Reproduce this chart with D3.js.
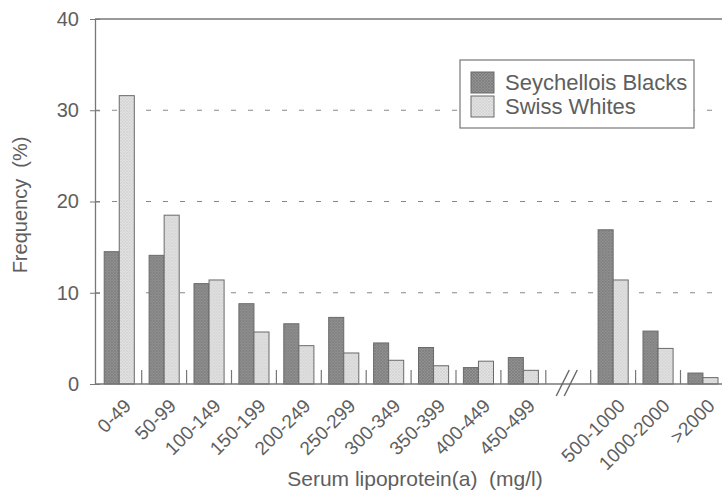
<!DOCTYPE html>
<html>
<head>
<meta charset="utf-8">
<script src="https://cdn.jsdelivr.net/npm/d3@7"></script>
<style>
  body { margin: 0; background: #fff; }
  text { font-family: "Liberation Sans", Arial, sans-serif; fill: #5e5e5e; }
</style>
</head>
<body>
<div id="graph"></div>
<script>
// Data
const categories = ["0-49", "50-99", "100-149", "150-199", "200-249", "250-299", "300-349", "350-399", "400-449", "450-499", "500-1000", "1000-2000", ">2000"];
const seychellois = [14.5, 14.1, 11.0, 8.8, 6.6, 7.3, 4.5, 4.0, 1.8, 2.9, 16.9, 5.8, 1.2];
const swiss = [31.6, 18.5, 11.4, 5.7, 4.2, 3.4, 2.6, 2.0, 2.5, 1.5, 11.4, 3.9, 0.7];
const seriesNames = ["Seychellois Blacks", "Swiss Whites"];
const yTicks = [0, 10, 20, 30, 40];

// slots on the x axis: the break "//" sits between 450-499 and 500-1000
const slots = categories.slice(0, 10).concat(["break"], categories.slice(10));

const width = 722, height = 496;
const lineCol = "#777";

const svg = d3.select("#graph").append("svg")
  .attr("width", width)
  .attr("height", height);

// textures for the bars
const defs = svg.append("defs");
const pDark = defs.append("pattern").attr("id", "dark").attr("patternUnits", "userSpaceOnUse")
  .attr("width", 3).attr("height", 3);
pDark.append("rect").attr("width", 3).attr("height", 3).attr("fill", "#929292");
pDark.append("path").attr("d", "M0,0L3,3M3,0L0,3").attr("stroke", "#7c7c7c").attr("stroke-width", 0.8);
const pLight = defs.append("pattern").attr("id", "light").attr("patternUnits", "userSpaceOnUse")
  .attr("width", 3).attr("height", 3);
pLight.append("rect").attr("width", 3).attr("height", 3).attr("fill", "#e2e2e2");
pLight.append("path").attr("d", "M0,0L3,3M3,0L0,3").attr("stroke", "#cfcfcf").attr("stroke-width", 0.6);
const fills = ["url(#dark)", "url(#light)"];

// scales
const x0 = d3.scaleBand().domain(slots).range([96.8, 96.8 + 14 * 44.9]);
const x1 = d3.scaleBand().domain(seriesNames).range([7.4, x0.bandwidth() - 7.4]);
const y = d3.scaleLinear().domain([0, 40]).range([384, 19]);

// dashed grid
svg.append("g").selectAll("line")
  .data(yTicks.filter(d => d > 0 && d < 40))
  .join("line")
  .attr("x1", 95).attr("x2", width)
  .attr("y1", d => y(d)).attr("y2", d => y(d))
  .attr("stroke", "#888").attr("stroke-width", 1)
  .attr("stroke-dasharray", "5,12");

// y axis with ticks crossing the axis
const yAxis = svg.append("g").attr("transform", "translate(95,0)")
  .call(d3.axisLeft(y).tickValues(yTicks).tickSizeInner(-5).tickSizeOuter(0).tickPadding(16));
yAxis.select(".domain").attr("stroke", lineCol).attr("stroke-width", 1.3);
yAxis.selectAll(".tick line").attr("stroke", lineCol).attr("x1", -5).attr("x2", 5);
yAxis.selectAll(".tick text").attr("font-size", 20).attr("fill", "#5e5e5e")
  .style("font-family", "Liberation Sans, Arial, sans-serif");

// top frame line
svg.append("line").attr("x1", 95).attr("x2", width).attr("y1", y(40)).attr("y2", y(40))
  .attr("stroke", lineCol).attr("stroke-width", 1.3);

// bars
const data = categories.map((c, i) => ({cat: c, vals: [seychellois[i], swiss[i]]}));
svg.append("g").selectAll("g")
  .data(data)
  .join("g")
  .attr("transform", d => "translate(" + x0(d.cat) + ",0)")
  .selectAll("rect")
  .data(d => d.vals.map((v, j) => ({name: seriesNames[j], v: v, j: j})))
  .join("rect")
  .attr("x", d => x1(d.name))
  .attr("width", x1.bandwidth())
  .attr("y", d => y(d.v))
  .attr("height", d => y(0) - y(d.v))
  .attr("fill", d => fills[d.j])
  .attr("stroke", "#6a6a6a").attr("stroke-width", 1);

// x axis line + small ticks between groups
svg.append("line").attr("x1", 95).attr("x2", width).attr("y1", y(0)).attr("y2", y(0))
  .attr("stroke", lineCol).attr("stroke-width", 1.3);
svg.append("g").selectAll("line")
  .data(slots.slice(1))
  .join("line")
  .attr("x1", d => x0(d)).attr("x2", d => x0(d))
  .attr("y1", y(0) - 14).attr("y2", y(0))
  .attr("stroke", lineCol).attr("stroke-width", 1.2);

// the "//" break mark
const bx = x0("break") + x0.bandwidth() / 2;
svg.append("g").selectAll("line")
  .data([-4, 4])
  .join("line")
  .attr("x1", d => bx + d - 8).attr("y1", 396)
  .attr("x2", d => bx + d + 5).attr("y2", 370)
  .attr("stroke", "#666").attr("stroke-width", 1.4);

// category labels
svg.append("g").selectAll("text")
  .data(categories)
  .join("text")
  .attr("transform", d => "translate(" + (x0(d) + x0.bandwidth() / 2 + 13) + ",407) rotate(-45)")
  .attr("text-anchor", "end")
  .attr("font-size", 19)
  .text(d => d);

// axis titles
svg.append("text")
  .attr("x", 415).attr("y", 486)
  .attr("text-anchor", "middle")
  .attr("font-size", 21)
  .style("white-space", "pre")
  .text("Serum lipoprotein(a)  (mg/l)");
svg.append("text")
  .attr("transform", "translate(27,205) rotate(-90)")
  .attr("text-anchor", "middle")
  .attr("font-size", 20)
  .style("white-space", "pre")
  .text("Frequency  (%)");

// legend
const lg = svg.append("g");
lg.append("rect").attr("x", 460).attr("y", 60).attr("width", 234).attr("height", 68)
  .attr("fill", "#fff").attr("stroke", lineCol).attr("stroke-width", 1.2);
seriesNames.forEach((s, i) => {
  lg.append("rect").attr("x", 471).attr("y", 72 + i * 24).attr("width", 23).attr("height", 21)
    .attr("fill", fills[i]).attr("stroke", "#6a6a6a");
  lg.append("text").attr("x", 505).attr("y", 90 + i * 24).attr("font-size", 22).text(s);
});
</script>
</body>
</html>
